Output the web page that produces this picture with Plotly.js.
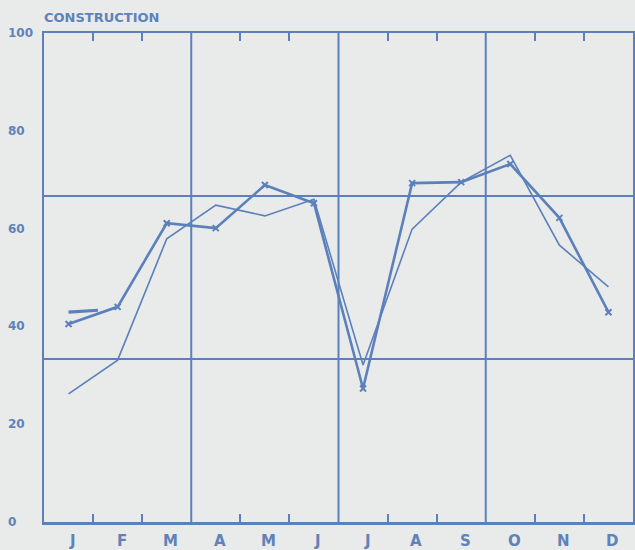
<!DOCTYPE html>
<html>
<head>
<meta charset="utf-8">
<script src="https://cdn.plot.ly/plotly-3.0.1.min.js"></script>
<style>
html,body{margin:0;padding:0;background:#e9eaea;}
#chart{width:635px;height:550px;}
</style>
</head>
<body>
<div id="chart"></div>
<script>
// ---- data ----
var months = ["J","F","M","A","M","J","J","A","S","O","N","D"];
var monthIdx = [0,1,2,3,4,5,6,7,8,9,10,11];
var seriesMarked = [40.5, 44.0, 61.1, 60.1, 68.9, 65.2, 27.3, 69.3, 69.5, 73.2, 62.2, 42.9];
var seriesThin   = [26.2, 33.1, 57.9, 64.8, 62.6, 66.0, 32.1, 59.9, 69.5, 75.0, 56.6, 48.1];
var seriesShortX = [0, 0.6];
var seriesShort  = [42.9, 43.3];
var yTicks = [0, 20, 40, 60, 80, 100];
var tickLabels = ["0", "20", "40", "60", "80", "100"];
var quarterBounds = [2.5, 5.5, 8.5];
var thirdLines = [33.33, 66.67];
var monthBounds = [0.5, 1.5, 3.5, 4.5, 6.5, 7.5, 9.5, 10.5];
var chartTitle = "CONSTRUCTION";

var blue = "#5b80bb";
var textBlue = "#5f82b8";

var traces = [
  {x: monthIdx, y: seriesThin, mode: "lines", line: {color: blue, width: 1.6}, hoverinfo: "skip"},
  {x: monthIdx, y: seriesMarked, mode: "lines+markers", line: {color: blue, width: 2.6},
   marker: {symbol: "x-thin", size: 6, line: {color: blue, width: 2}}, hoverinfo: "skip"},
  {x: seriesShortX, y: seriesShort, mode: "lines", line: {color: blue, width: 3.2}, hoverinfo: "skip"}
];

var shapes = [];
quarterBounds.forEach(function(q){
  shapes.push({type: "line", xref: "x", yref: "paper", x0: q, x1: q, y0: 0, y1: 1,
               line: {color: blue, width: 2}, layer: "below"});
});
thirdLines.forEach(function(v){
  shapes.push({type: "line", xref: "paper", yref: "y", x0: 0, x1: 1, y0: v, y1: v,
               line: {color: blue, width: 2}, layer: "below"});
});

var annotations = [{
  text: "<b>" + chartTitle + "</b>", xref: "paper", yref: "paper", x: -0.004, y: 1,
  xanchor: "left", yanchor: "bottom", yshift: 6, showarrow: false,
  font: {family: "DejaVu Sans", size: 13, color: textBlue}
}];
yTicks.forEach(function(v, i){
  annotations.push({text: "<b>" + tickLabels[i] + "</b>", xref: "paper", yref: "y",
    x: -0.064, y: v, xanchor: "left", yanchor: "middle", showarrow: false,
    font: {family: "DejaVu Sans", size: 12, color: textBlue}});
});
monthIdx.forEach(function(m, i){
  annotations.push({text: "<b>" + months[i] + "</b>", xref: "x", yref: "paper",
    x: m, y: 0, xanchor: "center", yanchor: "top", xshift: 4, yshift: -8, showarrow: false,
    font: {family: "DejaVu Sans", size: 15, color: textBlue}});
});

var layout = {
  width: 635, height: 550,
  margin: {l: 44, r: 2, t: 33, b: 28},
  paper_bgcolor: "#e9eaea", plot_bgcolor: "#e9eaea",
  showlegend: false,
  xaxis: {range: [-0.5, 11.5], tickvals: monthBounds, ticks: "inside", ticklen: 8,
          tickwidth: 2, tickcolor: blue, showticklabels: false, showgrid: false,
          zeroline: false, showline: true, linecolor: blue, linewidth: 2.5, mirror: "ticks"},
  yaxis: {range: [0, 100], tickvals: yTicks, showticklabels: false, ticks: "",
          showgrid: false, zeroline: false, showline: true, linecolor: blue,
          linewidth: 2.5, mirror: true},
  shapes: shapes,
  annotations: annotations
};

Plotly.newPlot("chart", traces, layout, {displayModeBar: false, staticPlot: true});
</script>
</body>
</html>
